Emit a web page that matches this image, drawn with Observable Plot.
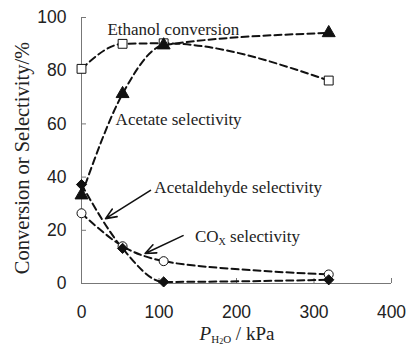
<!DOCTYPE html>
<html>
<head>
<meta charset="utf-8">
<script src="https://cdn.jsdelivr.net/npm/d3@7"></script>
<script src="https://cdn.jsdelivr.net/npm/@observablehq/plot@0.6"></script>
<style>
  html, body { margin: 0; padding: 0; background: #fff; }
</style>
</head>
<body>
<div id="chart"></div>
<script>
// ---- data ----
const pressure = [0, 53, 106, 319];                 // P_H2O / kPa
const ethanolConversion = [80.7, 90.1, 90.3, 76.3];
const acetateSelectivity = [33.2, 71.3, 89.6, 94.2];
const acetaldehydeSelectivity = [37.2, 13.2, 0.6, 1.4];
const coxSelectivity = [26.4, 14.0, 8.4, 3.4];

const xTicks = [0, 100, 200, 300, 400];
const yTicks = [0, 20, 40, 60, 80, 100];

const labels = [
  {text: "Ethanol conversion", x: 33.5, y: 95.5},
  {text: "Acetate selectivity", x: 44, y: 61.7},
  {text: "Acetaldehyde selectivity", x: 94, y: 36.0}
];
const coxLabel = {x: 147, y: 17.4};
const arrows = [
  {x1: 89, y1: 35.0, x2: 31, y2: 24.4},
  {x1: 131, y1: 18.0, x2: 82, y2: 11.3}
];

const rows = (ys) => pressure.map((x, i) => ({x, y: ys[i]}));
const eth = rows(ethanolConversion);
const ace = rows(acetateSelectivity);
const ald = rows(acetaldehydeSelectivity);
const cox = rows(coxSelectivity);

const dash = "7,4";
const lineOpts = {x: "x", y: "y", stroke: "#111", strokeWidth: 2, strokeDasharray: dash};
const serif = "'Liberation Serif', 'Times New Roman', serif";

const plot = Plot.plot({
  width: 408,
  height: 347,
  marginLeft: 81,
  marginRight: 17,
  marginTop: 17,
  marginBottom: 64,
  x: {domain: [0, 400]},
  y: {domain: [0, 100]},
  style: {fontFamily: "'Liberation Sans', Arial, sans-serif", fontSize: "17px", background: "#fff", color: "#222"},
  marks: [
    Plot.ruleX([0], {stroke: "#777", strokeWidth: 1}),
    Plot.ruleY([0], {stroke: "#777", strokeWidth: 1}),
    Plot.axisX({ticks: xTicks, tickSize: -5, stroke: "#777", tickFormat: () => "", label: null}),
    Plot.axisY({ticks: yTicks, tickSize: -5, stroke: "#777", tickFormat: () => "", label: null}),
    Plot.axisX({ticks: xTicks, tickSize: 0, tickPadding: 22, label: null, fill: "#222", fontSize: 17.5}),
    Plot.axisY({ticks: yTicks, tickSize: 0, tickPadding: 15, label: null, fill: "#222", fontSize: 17.5}),
    Plot.line(eth, {...lineOpts, curve: "monotone-x"}),
    Plot.line(cox, {...lineOpts, curve: "catmull-rom"}),
    Plot.line(ald, {...lineOpts, curve: "monotone-x"}),
    Plot.line(ace, {...lineOpts, curve: "monotone-x"}),
    Plot.dot(eth, {x: "x", y: "y", symbol: "square", r: 5, fill: "#fff", stroke: "#111", strokeWidth: 1}),
    Plot.dot(cox, {x: "x", y: "y", symbol: "circle", r: 4.5, fill: "#fff", stroke: "#111", strokeWidth: 1}),
    Plot.dot(ace, {x: "x", y: "y", symbol: "triangle", r: 4.8, fill: "#111", stroke: "#111", strokeWidth: 1}),
    Plot.dot(ald, {x: "x", y: "y", symbol: "diamond2", r: 4.6, fill: "#111", stroke: "#111", strokeWidth: 1}),
    Plot.arrow(arrows, {x1: "x1", y1: "y1", x2: "x2", y2: "y2", stroke: "#111", strokeWidth: 1.6, headLength: 11, headAngle: 45}),
    Plot.text(labels, {x: "x", y: "y", text: "text", textAnchor: "start", fontFamily: serif, fontSize: 17, fill: "#222"})
  ]
});

const svg = d3.select(plot);
const sx = plot.scale("x"), sy = plot.scale("y");

// CO_x label with subscript
const t = svg.append("text")
  .attr("x", sx.apply(coxLabel.x)).attr("y", sy.apply(coxLabel.y) + 5)
  .attr("text-anchor", "start")
  .attr("font-family", serif).attr("font-size", 17).attr("fill", "#222");
t.append("tspan").text("CO");
t.append("tspan").attr("font-size", 10).attr("dy", 3).text("X");
t.append("tspan").attr("dy", -3).text(" selectivity");

// y axis label
svg.append("text")
  .attr("transform", "translate(22,158) rotate(-90)")
  .attr("text-anchor", "middle").attr("dy", "0.35em")
  .attr("font-family", serif).attr("font-size", 20.5).attr("fill", "#222")
  .text("Conversion or Selectivity/%");

// x axis label with subscript
const xl = svg.append("text")
  .attr("x", 237).attr("y", 340)
  .attr("text-anchor", "middle")
  .attr("font-family", serif).attr("font-size", 19).attr("fill", "#222");
xl.append("tspan").attr("font-style", "italic").text("P");
xl.append("tspan").attr("font-size", 11).attr("dy", 3).text("H");
xl.append("tspan").attr("font-size", 8).attr("dy", 1).text("2");
xl.append("tspan").attr("font-size", 11).attr("dy", -1).text("O");
xl.append("tspan").attr("dy", -3).text(" / kPa");

document.getElementById("chart").appendChild(plot);
</script>
</body>
</html>
